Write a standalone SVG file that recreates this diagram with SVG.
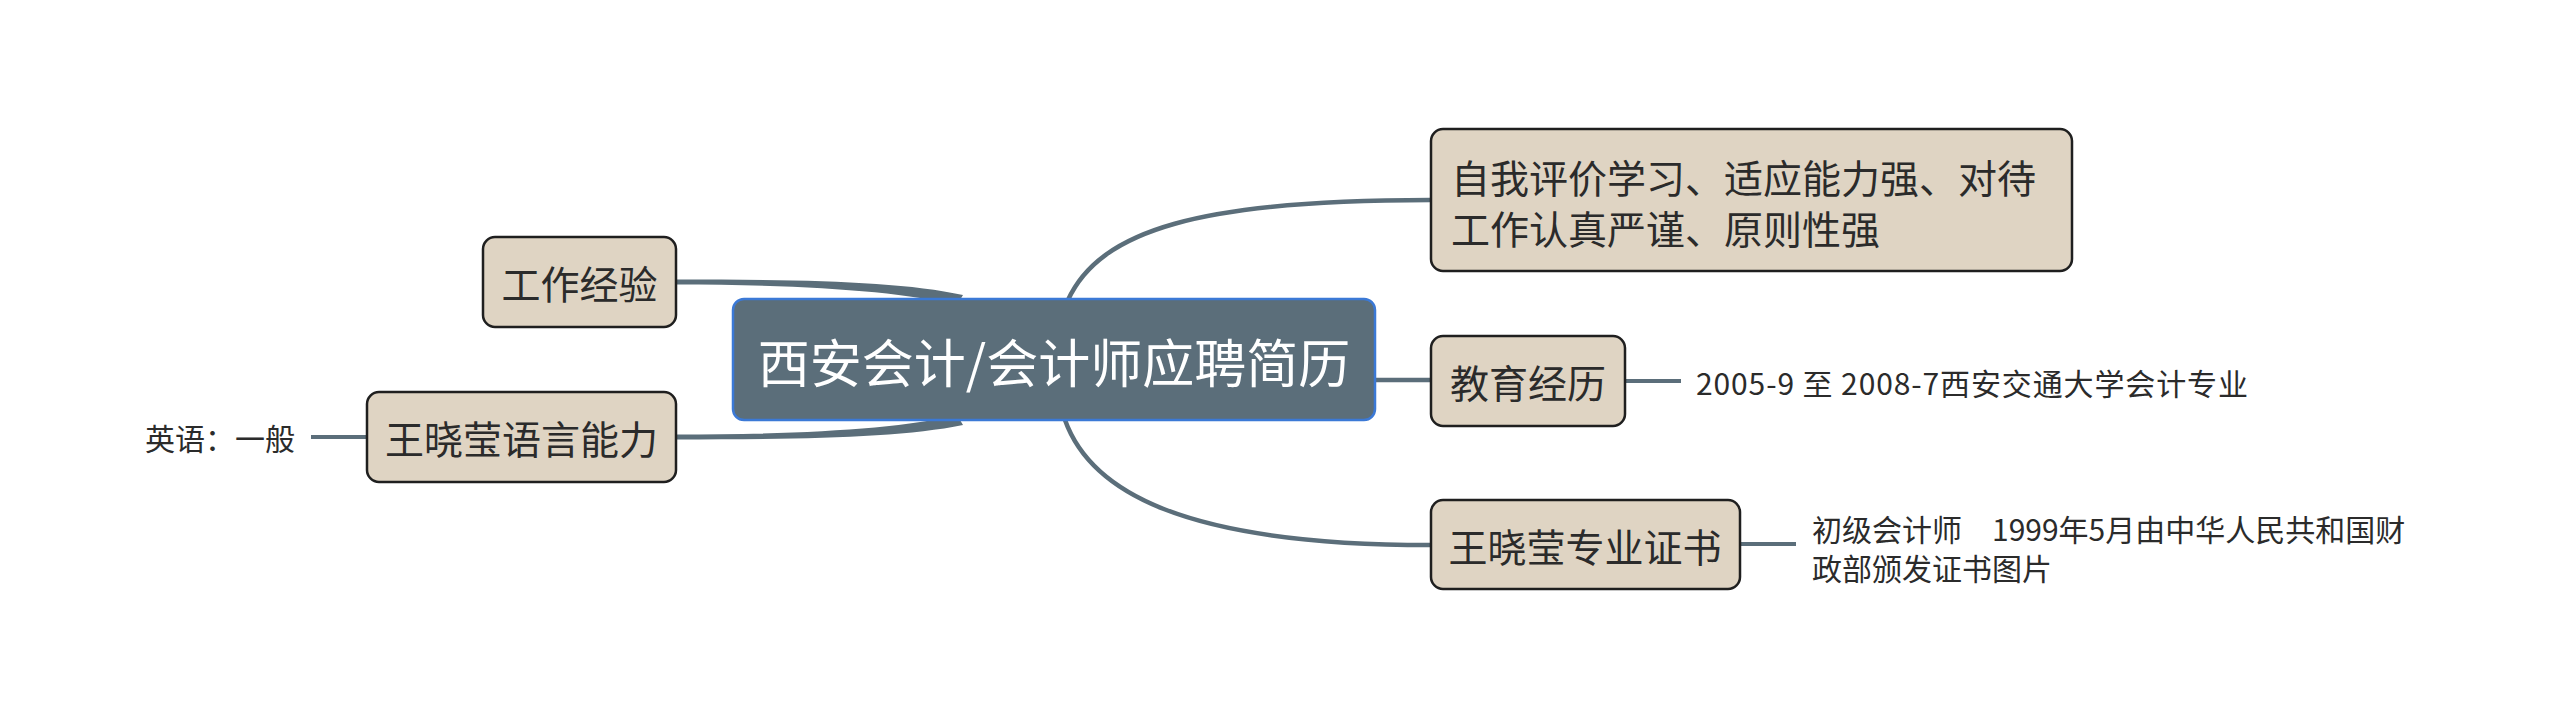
<svg xmlns="http://www.w3.org/2000/svg" width="2560" height="728" viewBox="0 0 2560 728">
<style>
.bg{fill:#ffffff}
.conn{fill:none;stroke:#5b6e7a;stroke-width:4.5;stroke-linecap:butt}
.taper{fill:#5b6e7a;stroke:none}
.sub{fill:none;stroke:#5b6e7a;stroke-width:4}
.node{fill:#dfd4c3;stroke:#1f1f1f;stroke-width:2.5}
.root{fill:#5b6e7a;stroke:#3b79d6;stroke-width:2.5}
text{font-family:"Noto Sans CJK SC","Microsoft YaHei",sans-serif;dominant-baseline:central}
.t{font-size:39px;fill:#2b2b2b}
.rt{font-size:52px;fill:#ffffff}
.lb{font-size:30px;fill:#2b2b2b}
</style>
<rect class="bg" x="0" y="0" width="2560" height="728"/>
<g id="connectors">
<path class="conn" d="M1068,300 C1100,230 1200,200 1430,200"/>
<path class="conn" d="M1375,380 L1430,380"/>
<path class="conn" d="M1065,420 C1090,490 1180,545 1430,545"/>
<path class="taper" d="M963,295 C900,281 800,279.5 676,279.5 L676,284.5 C800,284.5 900,291 957,305 Z"/>
<path class="taper" d="M963,425 C900,438 800,439.5 676,439.5 L676,434.5 C800,434.5 900,429 957,415 Z"/>
<path class="sub" d="M1625,381 L1681,381"/>
<path class="sub" d="M1740,544 L1796,544"/>
<path class="sub" d="M311,437 L367,437"/>
</g>
<g id="root">
<rect class="root" x="733" y="299" width="642" height="121" rx="11"/>
<text class="rt" x="1054" y="360" text-anchor="middle">西安会计/会计师应聘简历</text>
</g>
<g id="n-self">
<rect class="node" x="1431" y="129" width="641" height="142" rx="12"/>
<text class="t" x="1451" y="176">自我评价学习、适应能力强、对待</text>
<text class="t" x="1451" y="227">工作认真严谨、原则性强</text>
</g>
<g id="n-edu">
<rect class="node" x="1431" y="336" width="194" height="90" rx="12"/>
<text class="t" x="1528" y="381" text-anchor="middle">教育经历</text>
</g>
<g id="l-edu">
<text class="lb" x="1696" y="382" textLength="552" lengthAdjust="spacing">2005-9 至 2008-7西安交通大学会计专业</text>
</g>
<g id="n-cert">
<rect class="node" x="1431" y="500" width="309" height="89" rx="12"/>
<text class="t" x="1585" y="545" text-anchor="middle">王晓莹专业证书</text>
</g>
<g id="l-cert">
<text class="lb" x="1812" y="528">初级会计师　1999年5月由中华人民共和国财</text>
<text class="lb" x="1812" y="567">政部颁发证书图片</text>
</g>
<g id="n-work">
<rect class="node" x="483" y="237" width="193" height="90" rx="12"/>
<text class="t" x="579.5" y="282" text-anchor="middle">工作经验</text>
</g>
<g id="n-lang">
<rect class="node" x="367" y="392" width="309" height="90" rx="12"/>
<text class="t" x="521.5" y="437" text-anchor="middle">王晓莹语言能力</text>
</g>
<g id="l-lang">
<text class="lb" x="145" y="437">英语：一般</text>
</g>
</svg>
